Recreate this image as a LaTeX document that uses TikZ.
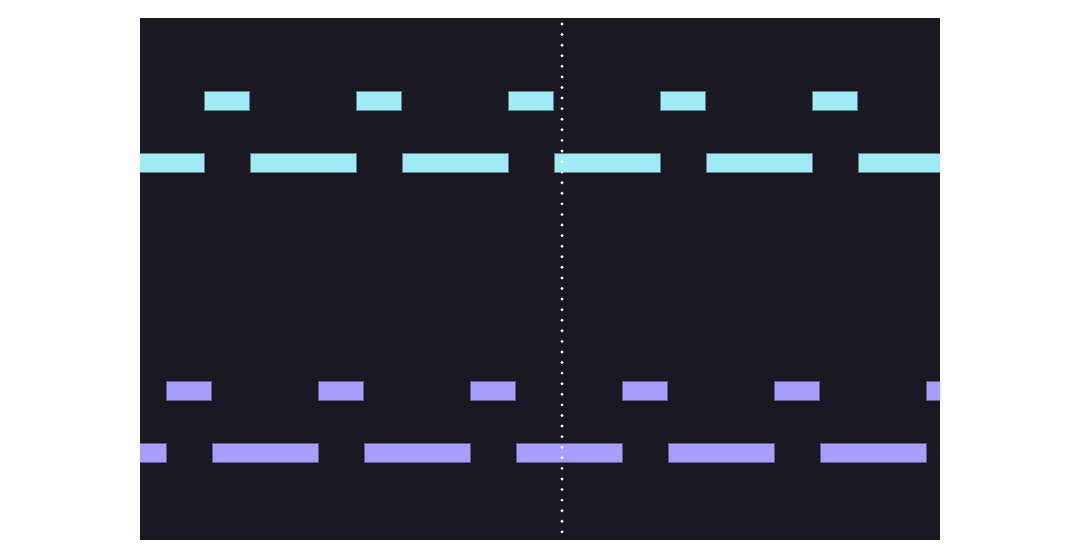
\documentclass[tikz,border=0pt]{standalone}
\usepackage{tikz}

\definecolor{panel}{RGB}{26,24,32}
\definecolor{skybar}{RGB}{161,235,249}
\definecolor{lilacbar}{RGB}{168,156,252}

\begin{document}
\begin{tikzpicture}[x = 1pt, y = -1pt,
    bar/.style = {fill = #1, draw = #1!50!panel, line width = 0.7pt}]
  \useasboundingbox (0,0) rectangle (1080,560);
  \fill [panel] (140,18) rectangle (940,540);

  \begin{scope}
    \clip (140,18) rectangle (940,540);
    \foreach \col/\short/\long/\top [count = \id] in {
      skybar/204/98/91,
      lilacbar/166/60/381
    } \foreach \k in {0,...,5} {
        \draw [bar = \col] (\short + 152*\k, \top) rectangle +(45,19);
        \draw [bar = \col] (\long + 152*\k, \top + 62) rectangle +(106,19);
      };
  \end{scope}

  \coordinate (now top) at (562,24);
  \coordinate (now bot) at (562,532);
  \draw [white, line width = 3.2pt, line cap = round,
         dash pattern = on 0pt off 10.58pt] (now top) -- (now bot);
\end{tikzpicture}
\end{document}
